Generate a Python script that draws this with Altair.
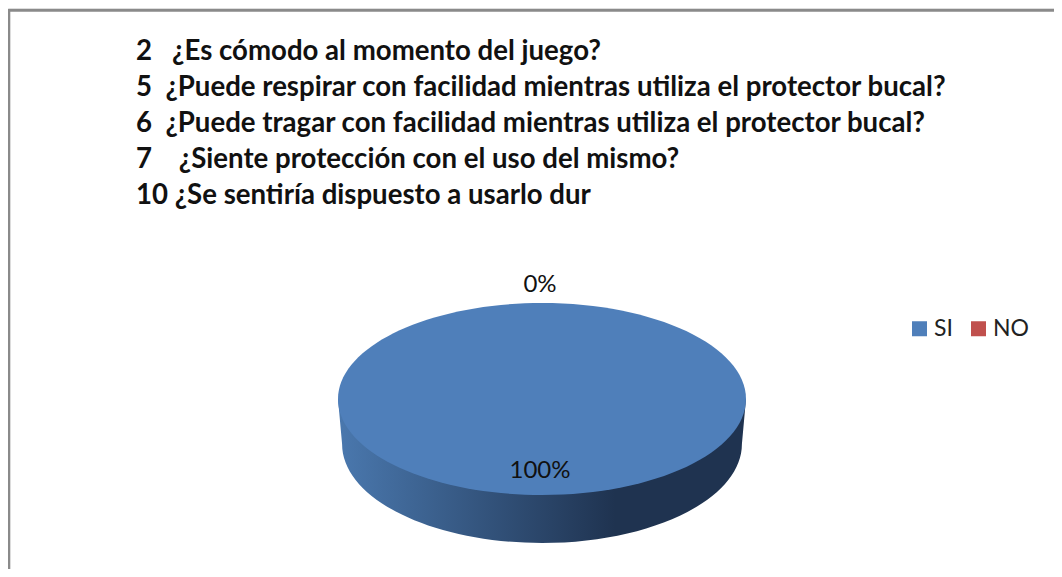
import altair as alt
import pandas as pd

NB = "\u00a0"
questions = [
    f"2{NB}{NB}{NB}¿Es cómodo al momento del juego?",
    f"5{NB}{NB}¿Puede respirar con facilidad mientras utiliza el protector bucal?",
    f"6{NB}{NB}¿Puede tragar con facilidad mientras utiliza el protector bucal?",
    f"7{NB}{NB}{NB}{NB}¿Siente protección con el uso del mismo?",
    f"10{NB}¿Se sentiría dispuesto a usarlo dur",
]
categories = ["SI", "NO"]
values = [100, 0]
pct_labels = ["100%", "0%"]

W, H = 1046, 561
FONT = "Lato"
TOP_PATH = "M-1,0 A1,0.4706 0 1 1 1,0 A1,0.4706 0 1 1 -1,0 Z"
SIDE_PATH = "M-1,0 L-0.98,0.22 A0.98,0.486 0 0 0 0.98,0.22 L1,0 Z"
PIE_SIZE = 408 ** 2

pie = pd.DataFrame({"cat": categories, "value": values, "pct": pct_labels})
qdf = pd.DataFrame({"q": questions})
frame = pd.DataFrame({"edge": ["top", "left"]})

color_scale = alt.Scale(domain=categories, range=["#4F7FBA", "#C0504D"])
cx, cy = alt.value(534), alt.value(391)

side = (
    alt.Chart(pie).transform_filter("datum.value > 0")
    .mark_point(
        shape=SIDE_PATH, size=PIE_SIZE, filled=True, opacity=1, strokeWidth=0,
        fill=alt.Gradient(
            gradient="linear", x1=0, x2=1, y1=0, y2=0,
            stops=[
                alt.GradientStop(color="#4A78AE", offset=0),
                alt.GradientStop(color="#1F3350", offset=0.68),
                alt.GradientStop(color="#1F3350", offset=1),
            ],
        ),
    )
    .encode(x=cx, y=cy)
)

top = (
    alt.Chart(pie).transform_filter("datum.value > 0")
    .mark_point(shape=TOP_PATH, size=PIE_SIZE, filled=True, opacity=1, strokeWidth=0)
    .encode(
        x=cx, y=cy,
        color=alt.Color(
            "cat:N", scale=color_scale,
            legend=alt.Legend(
                orient="none", legendX=900, legendY=309, direction="horizontal",
                title=None, symbolType="square", symbolSize=225, symbolStrokeWidth=0,
                labelFont=FONT, labelFontSize=23, labelColor="#222222",
                columnPadding=14, labelOffset=3,
            ),
        ),
    )
)

pct = (
    alt.Chart(pie)
    .mark_text(font=FONT, fontSize=24, color="#111111", align="center", baseline="middle")
    .encode(
        x=alt.value(532),
        y=alt.Y("cat:N", axis=None, scale=alt.Scale(type="point", domain=["NO", "SI"], range=[277, 463], padding=0)),
        text="pct:N",
    )
)

lines = (
    alt.Chart(qdf)
    .mark_text(font=FONT, fontSize=27.6, fontWeight="bold", color="#111111", align="left", baseline="middle")
    .encode(
        x=alt.value(128),
        y=alt.Y("q:N", axis=None, sort=None, scale=alt.Scale(type="point", range=[44, 188], padding=0)),
        text="q:N",
    )
)

top_edge = alt.Chart(frame).transform_filter("datum.edge == 'top'").mark_rule(color="#8A8A8A", strokeWidth=2.6).encode(
    x=alt.value(0), x2=alt.value(W), y=alt.value(2.4))
left_edge = alt.Chart(frame).transform_filter("datum.edge == 'left'").mark_rule(color="#8A8A8A", strokeWidth=2.6).encode(
    x=alt.value(1), y=alt.value(1), y2=alt.value(H))

chart = (
    alt.layer(top_edge, left_edge, side, top, pct, lines)
    .resolve_scale(y="independent")
    .properties(width=W, height=H, padding=0, autosize=alt.AutoSizeParams(type="none"))
    .configure_view(stroke=None)
    .configure(background="white")
)
chart.save("out.html", embed_options={"renderer": "svg", "actions": False})
